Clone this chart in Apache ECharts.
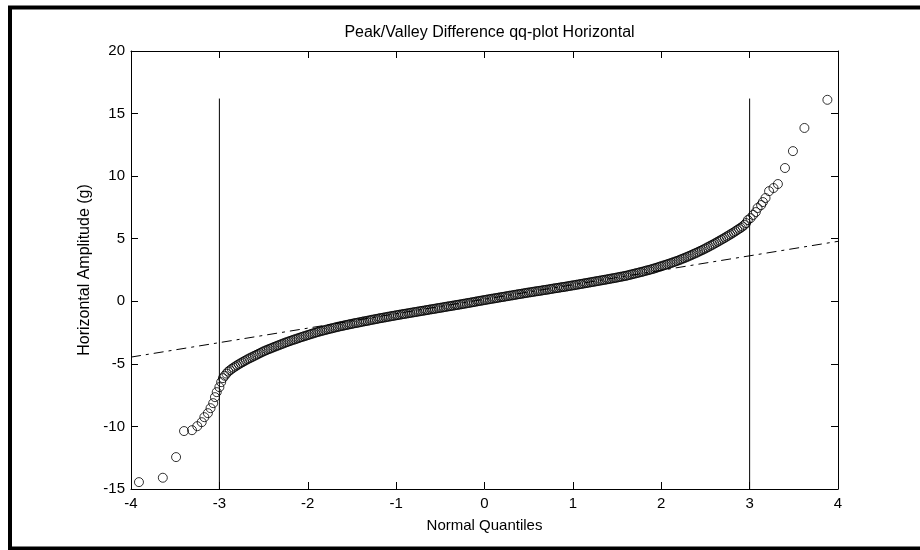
<!DOCTYPE html>
<html>
<head>
<meta charset="utf-8">
<script src="https://cdn.jsdelivr.net/npm/echarts@6/dist/echarts.min.js"></script>
<style>html,body{margin:0;padding:0;background:#fff}#c{width:920px;height:550px}</style>
</head>
<body>
<div id="c"></div>
<script>
// ---- data ----
var xTicks = [-4, -3, -2, -1, 0, 1, 2, 3, 4];
var yTicks = [-15, -10, -5, 0, 5, 10, 15, 20];

var leftTailX = [-3.91,-3.64,-3.49,-3.40,-3.31,-3.25,-3.20,-3.17,-3.13,-3.10,-3.07,-3.05,-3.03,-3.00,-2.98];
var leftTailY = [-14.45,-14.10,-12.45,-10.37,-10.30,-9.98,-9.66,-9.26,-8.94,-8.54,-8.14,-7.66,-7.26,-6.86,-6.46];

var bandX = [
-2.96,-2.94,-2.92,
-2.90,-2.88,-2.86,-2.84,-2.82, -2.80,-2.78,-2.76,-2.74,-2.72,
-2.70,-2.68,-2.66,-2.64,-2.62, -2.60,-2.58,-2.56,-2.54,-2.52,
-2.50,-2.48,-2.46,-2.44,-2.42, -2.40,-2.38,-2.36,-2.34,-2.32,
-2.30,-2.28,-2.26,-2.24,-2.22, -2.20,-2.18,-2.16,-2.14,-2.12,
-2.10,-2.08,-2.06,-2.04,-2.02, -2.00,-1.98,-1.96,-1.94,-1.92,
-1.90,-1.88,-1.86,-1.84,-1.82, -1.80,-1.78,-1.76,-1.74,-1.72,
-1.70,-1.68,-1.66,-1.64,-1.62, -1.60,-1.58,-1.56,-1.54,-1.52,
-1.50,-1.48,-1.46,-1.44,-1.42, -1.40,-1.38,-1.36,-1.34,-1.32,
-1.30,-1.28,-1.26,-1.24,-1.22, -1.20,-1.18,-1.16,-1.14,-1.12,
-1.10,-1.08,-1.06,-1.04,-1.02, -1.00,-0.98,-0.96,-0.94,-0.92,
-0.90,-0.88,-0.86,-0.84,-0.82, -0.80,-0.78,-0.76,-0.74,-0.72,
-0.70,-0.68,-0.66,-0.64,-0.62, -0.60,-0.58,-0.56,-0.54,-0.52,
-0.50,-0.48,-0.46,-0.44,-0.42, -0.40,-0.38,-0.36,-0.34,-0.32,
-0.30,-0.28,-0.26,-0.24,-0.22, -0.20,-0.18,-0.16,-0.14,-0.12,
-0.10,-0.08,-0.06,-0.04,-0.02,
0.00,0.02,0.04,0.06,0.08, 0.10,0.12,0.14,0.16,0.18,
0.20,0.22,0.24,0.26,0.28, 0.30,0.32,0.34,0.36,0.38,
0.40,0.42,0.44,0.46,0.48, 0.50,0.52,0.54,0.56,0.58,
0.60,0.62,0.64,0.66,0.68, 0.70,0.72,0.74,0.76,0.78,
0.80,0.82,0.84,0.86,0.88, 0.90,0.92,0.94,0.96,0.98,
1.00,1.02,1.04,1.06,1.08, 1.10,1.12,1.14,1.16,1.18,
1.20,1.22,1.24,1.26,1.28, 1.30,1.32,1.34,1.36,1.38,
1.40,1.42,1.44,1.46,1.48, 1.50,1.52,1.54,1.56,1.58,
1.60,1.62,1.64,1.66,1.68, 1.70,1.72,1.74,1.76,1.78,
1.80,1.82,1.84,1.86,1.88, 1.90,1.92,1.94,1.96,1.98,
2.00,2.02,2.04,2.06,2.08, 2.10,2.12,2.14,2.16,2.18,
2.20,2.22,2.24,2.26,2.28, 2.30,2.32,2.34,2.36,2.38,
2.40,2.42,2.44,2.46,2.48, 2.50,2.52,2.54,2.56,2.58,
2.60,2.62,2.64,2.66,2.68, 2.70,2.72,2.74,2.76,2.78,
2.80,2.82,2.84,2.86,2.88, 2.90,2.92,2.94,2.96];
var bandY = [
-6.14,-5.95,-5.78,
-5.62,-5.51,-5.40,-5.30,-5.21, -5.12,-5.03,-4.95,-4.87,-4.79,
-4.71,-4.63,-4.56,-4.49,-4.42, -4.35,-4.28,-4.21,-4.14,-4.07,
-4.00,-3.94,-3.88,-3.82,-3.77, -3.71,-3.65,-3.60,-3.54,-3.49,
-3.43,-3.38,-3.32,-3.27,-3.22, -3.17,-3.12,-3.07,-3.03,-2.98,
-2.93,-2.88,-2.84,-2.79,-2.75, -2.70,-2.66,-2.61,-2.57,-2.52,
-2.48,-2.44,-2.40,-2.36,-2.33, -2.29,-2.25,-2.22,-2.18,-2.15,
-2.11,-2.08,-2.04,-2.01,-1.98, -1.95,-1.92,-1.89,-1.86,-1.83,
-1.80,-1.77,-1.74,-1.72,-1.69, -1.66,-1.63,-1.60,-1.58,-1.55,
-1.52,-1.49,-1.46,-1.44,-1.41, -1.38,-1.35,-1.33,-1.30,-1.28,
-1.25,-1.22,-1.20,-1.17,-1.15, -1.12,-1.10,-1.07,-1.05,-1.02,
-1.00,-0.98,-0.95,-0.93,-0.90, -0.88,-0.86,-0.83,-0.81,-0.78,
-0.76,-0.74,-0.71,-0.69,-0.66, -0.64,-0.62,-0.59,-0.57,-0.54,
-0.52,-0.50,-0.47,-0.45,-0.42, -0.40,-0.38,-0.35,-0.33,-0.30,
-0.28,-0.26,-0.23,-0.21,-0.18, -0.16,-0.13,-0.11,-0.08,-0.06,
-0.03,0.00,0.02,0.05,0.07,
0.10,0.12,0.15,0.17,0.20, 0.22,0.24,0.27,0.29,0.32,
0.34,0.36,0.39,0.41,0.44, 0.46,0.48,0.51,0.53,0.56,
0.58,0.60,0.63,0.65,0.68, 0.70,0.72,0.74,0.77,0.79,
0.81,0.83,0.85,0.88,0.90, 0.92,0.94,0.97,0.99,1.02,
1.04,1.06,1.08,1.11,1.13, 1.15,1.17,1.20,1.22,1.25,
1.27,1.29,1.32,1.34,1.37, 1.39,1.42,1.44,1.47,1.49,
1.52,1.54,1.57,1.59,1.62, 1.64,1.67,1.69,1.72,1.74,
1.77,1.80,1.82,1.85,1.87, 1.90,1.93,1.96,1.98,2.01,
2.04,2.07,2.11,2.14,2.18, 2.21,2.25,2.28,2.32,2.35,
2.39,2.43,2.47,2.50,2.54, 2.58,2.62,2.67,2.71,2.76,
2.80,2.85,2.89,2.94,2.98, 3.03,3.08,3.13,3.18,3.23,
3.28,3.34,3.40,3.45,3.51, 3.57,3.63,3.69,3.76,3.82,
3.88,3.95,4.02,4.08,4.15, 4.22,4.30,4.37,4.45,4.52,
4.60,4.68,4.76,4.84,4.92, 5.00,5.08,5.17,5.25,5.34,
5.42,5.51,5.60,5.70,5.79, 5.88,5.98,6.10,6.25];

var rightTailX = [2.98,3.01,3.04,3.07,3.09,3.13,3.15,3.18,3.22,3.27,3.32,3.40,3.49,3.62,3.88];
var rightTailY = [6.49,6.65,6.90,7.13,7.45,7.69,7.93,8.25,8.80,9.05,9.37,10.65,12.00,13.85,16.10];

var refLineX = [-4, 4];
var refLineY = [-4.46, 4.79];

var limitLineX = [-3, 3];
var limitLineY = [-15, 16.2];

// ---- build ----
function zip(xs, ys) { var o = []; for (var i = 0; i < xs.length; i++) o.push([xs[i], ys[i]]); return o; }
var points = zip(leftTailX, leftTailY).concat(zip(bandX, bandY), zip(rightTailX, rightTailY));

var FONT = '"Liberation Sans", Arial, sans-serif';
var chart = echarts.init(document.getElementById('c'), null, {renderer: 'canvas'});

function axisCommon(extra) {
  var a = {
    type: 'value',
    axisLine: {show: true, onZero: false, lineStyle: {color: '#000', width: 1}},
    axisTick: {show: true, inside: true, length: 7, lineStyle: {color: '#000', width: 1}},
    splitLine: {show: false},
    axisLabel: {color: '#000', fontFamily: FONT, fontSize: 15}
  };
  for (var k in extra) a[k] = extra[k];
  return a;
}

var option = {
  animation: false,
  backgroundColor: '#fff',
  title: {
    text: 'Peak/Valley Difference qq-plot Horizontal',
    left: 484.5, top: 20, textAlign: 'center',
    textStyle: {color: '#000', fontFamily: FONT, fontSize: 16, fontWeight: 'normal'}
  },
  grid: {left: 131, right: 82, top: 51, bottom: 61, containLabel: false},
  xAxis: [
    axisCommon({min: xTicks[0], max: xTicks[xTicks.length - 1], interval: 1, position: 'bottom',
      name: 'Normal Quantiles', nameLocation: 'middle', nameGap: 29,
      nameTextStyle: {color: '#000', fontFamily: FONT, fontSize: 15},
      axisLabel: {color: '#000', fontFamily: FONT, fontSize: 15, margin: 7}}),
    axisCommon({min: xTicks[0], max: xTicks[xTicks.length - 1], interval: 1, position: 'top',
      axisLabel: {show: false}})
  ],
  yAxis: [
    axisCommon({min: yTicks[0], max: yTicks[yTicks.length - 1], interval: 5, position: 'left',
      name: 'Horizontal Amplitude (g)', nameLocation: 'middle', nameGap: 34, nameRotate: 90,
      nameTextStyle: {color: '#000', fontFamily: FONT, fontSize: 16},
      axisLabel: {color: '#000', fontFamily: FONT, fontSize: 15, margin: 6}}),
    axisCommon({min: yTicks[0], max: yTicks[yTicks.length - 1], interval: 5, position: 'right',
      axisLabel: {show: false}})
  ],
  graphic: [{
    type: 'rect', silent: true, z: 100,
    shape: {x: 10, y: 7.5, width: 930, height: 541},
    style: {fill: 'none', stroke: '#000', lineWidth: 4}
  }],
  series: [
    {
      type: 'line', data: zip(refLineX, refLineY),
      symbol: 'none', silent: true,
      lineStyle: {color: '#000', width: 1, type: [10, 5, 3, 5]}
    },
    {
      type: 'line', data: [[limitLineX[0], limitLineY[0]], [limitLineX[0], limitLineY[1]]],
      symbol: 'none', silent: true, lineStyle: {color: '#000', width: 1}
    },
    {
      type: 'line', data: [[limitLineX[1], limitLineY[0]], [limitLineX[1], limitLineY[1]]],
      symbol: 'none', silent: true, lineStyle: {color: '#000', width: 1}
    },
    {
      type: 'scatter', data: points, symbol: 'circle', symbolSize: 9,
      itemStyle: {color: 'rgba(0,0,0,0)', borderColor: '#000', borderWidth: 1},
      silent: true, large: false
    }
  ]
};
chart.setOption(option);
</script>
</body>
</html>
